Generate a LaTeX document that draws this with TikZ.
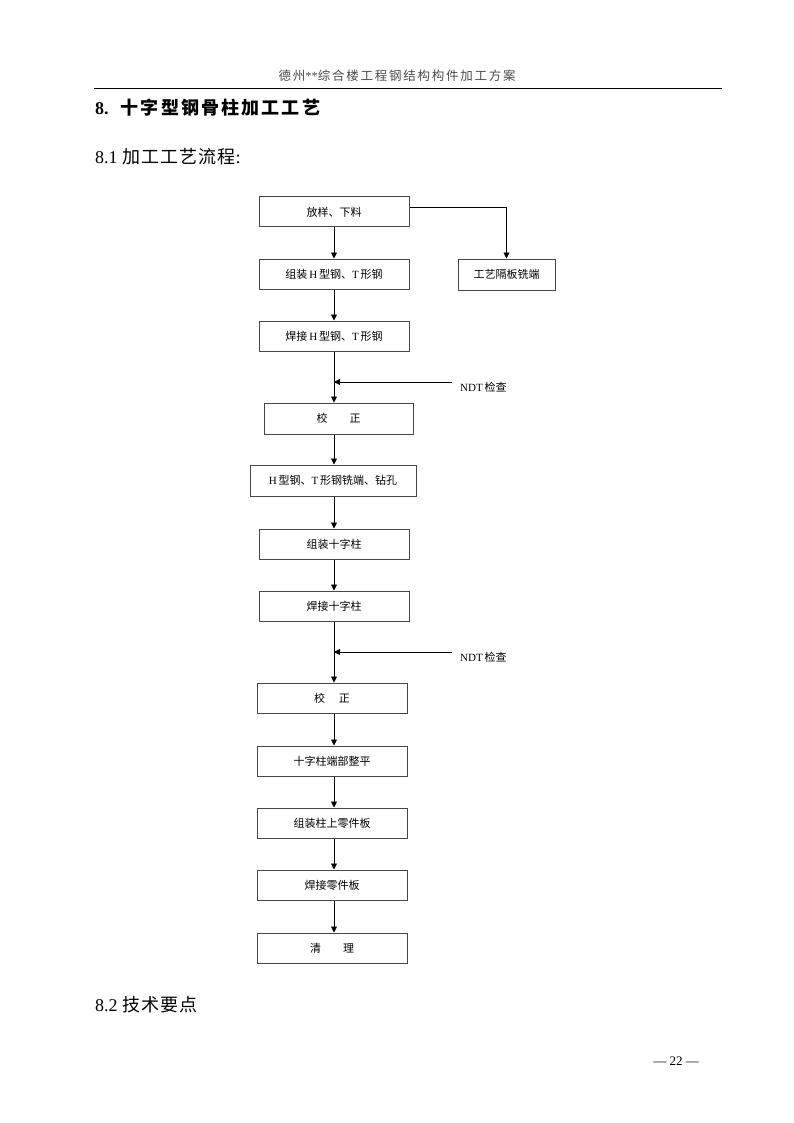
\documentclass[tikz,border=0pt]{standalone}
\usepackage{fontspec}
\setmainfont{Liberation Serif}
\newfontfamily\cjk{Noto Sans CJK SC}
\newfontfamily\cjkhdr[LetterSpace=14]{Noto Sans CJK SC}
\newfontfamily\cjktitle[LetterSpace=12]{Noto Sans CJK SC}
\newfontfamily\cjksub[LetterSpace=6]{Noto Sans CJK SC}
\usetikzlibrary{arrows.meta,positioning}
\begin{document}
\begin{tikzpicture}[x=1pt,y=-1pt,
  box/.style={draw=black!72,line width=1pt,fill=white,inner sep=0pt,font=\fontsize{11}{13}\selectfont},
  flow/.style={draw=black,line width=0.9pt,-{Triangle[length=6pt,width=6pt]}},
  lbl/.style={inner sep=0pt,anchor=west,font=\fontsize{11}{13}\selectfont}]
\useasboundingbox[fill=white] (0,0) rectangle (794,1123);
% header
\node[inner sep=0pt,text=black!70,font=\fontsize{12.5}{14}\selectfont] (hdr) at (397,76) {{\cjkhdr 德州}**{\cjkhdr 综合楼工程钢结构构件加工方案}};
\draw[line width=0.9pt] (94,88) -- (722,88);
\node[inner sep=0pt,anchor=west,font=\fontsize{18}{20}\selectfont] (title) at (95,108) {\textbf{8.}\hspace*{12pt}{\cjktitle\bfseries 十字型钢骨柱加工工艺}};
\node[inner sep=0pt,anchor=west,font=\fontsize{18}{20}\selectfont] (sub1) at (95,157) {8.1 {\cjksub 加工工艺流程}:};
\node[inner sep=0pt,anchor=west,font=\fontsize{18}{20}\selectfont] (sub2) at (95,1005) {8.2 {\cjksub 技术要点}};
\node[inner sep=0pt,font=\fontsize{13}{15}\selectfont] (page) at (676,1061) {— 22 —};
% boxes
\node[box,minimum width=150pt,minimum height=30pt] (b1) at (334,212) {\cjk 放样、下料};
\node[box,minimum width=150pt,minimum height=30pt] (b2) at (334,274) {{\cjk 组装}\,H\,{\cjk 型钢、}T\,{\cjk 形钢}};
\node[box,minimum width=97pt,minimum height=31pt] (b3) at (506.5,274.5) {\cjk 工艺隔板铣端};
\node[box,minimum width=150pt,minimum height=30pt] (b4) at (334,336) {{\cjk 焊接}\,H\,{\cjk 型钢、}T\,{\cjk 形钢}};
\node[box,minimum width=149pt,minimum height=31pt] (b5) at (338.5,418.5) {{\cjk 校}\hspace{22pt}{\cjk 正}};
\node[box,minimum width=166pt,minimum height=31pt] (b6) at (333,480.5) {H\,{\cjk 型钢、}T\,{\cjk 形钢铣端、钻孔}};
\node[box,minimum width=150pt,minimum height=30pt] (b7) at (334,544) {\cjk 组装十字柱};
\node[box,minimum width=150pt,minimum height=30pt] (b8) at (334,606) {\cjk 焊接十字柱};
\node[box,minimum width=150pt,minimum height=30pt] (b9) at (332,698) {{\cjk 校}\hspace{14pt}{\cjk 正}};
\node[box,minimum width=150pt,minimum height=30pt] (b10) at (332,761) {\cjk 十字柱端部整平};
\node[box,minimum width=150pt,minimum height=30pt] (b11) at (332,823) {\cjk 组装柱上零件板};
\node[box,minimum width=150pt,minimum height=30pt] (b12) at (332,885) {\cjk 焊接零件板};
\node[box,minimum width=150pt,minimum height=30pt] (b13) at (332,948) {{\cjk 清}\hspace{22pt}{\cjk 理}};
% NDT labels
\coordinate (n1) at (452,382);
\coordinate (m1) at (334,382);
\node[lbl] (t1) at (460,387) {NDT\,{\cjk 检查}};
\coordinate (n2) at (452,652);
\coordinate (m2) at (334,652);
\node[lbl] (t2) at (460,657) {NDT\,{\cjk 检查}};
% connectors
\draw[flow] (b1) -- (b2);
\draw[flow] ([yshift=5pt]b1.east) -| (b3.north);
\draw[flow] (b2) -- (b4);
\draw[flow] (b4.south) -- (b4.south |- b5.north);
\draw[flow] (n1) -- (m1);
\draw[flow] (b5.south -| b4.south) -- (b4.south |- b6.north);
\draw[flow] (b6.south -| b4.south) -- (b7.north);
\draw[flow] (b7) -- (b8);
\draw[flow] (b8.south) -- (b8.south |- b9.north);
\draw[flow] (n2) -- (m2);
\draw[flow] (b9.south -| b8.south) -- (b8.south |- b10.north);
\draw[flow] (b10.south -| b8.south) -- (b8.south |- b11.north);
\draw[flow] (b11.south -| b8.south) -- (b8.south |- b12.north);
\draw[flow] (b12.south -| b8.south) -- (b8.south |- b13.north);
\end{tikzpicture}
\end{document}
